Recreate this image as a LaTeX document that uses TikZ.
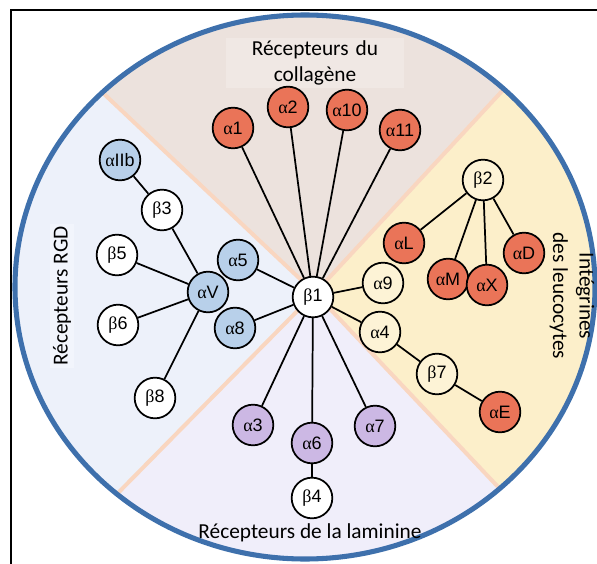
\documentclass[tikz,border=0pt]{standalone}
\usepackage{fontspec}
\setmainfont{Carlito}
\newfontfamily\lblfont{Liberation Sans}
\newfontfamily\grkfont{Liberation Serif}
\newcommand{\alf}{{\grkfont α}}
\newcommand{\bet}{{\grkfont β}}

\definecolor{fondcol}{RGB}{236,226,221}
\definecolor{fondleu}{RGB}{252,239,202}
\definecolor{fondlam}{RGB}{240,238,250}
\definecolor{fondrgd}{RGB}{237,241,250}
\definecolor{separ}{RGB}{249,214,192}
\definecolor{bord}{RGB}{62,112,172}
\definecolor{rougeint}{RGB}{234,116,88}
\definecolor{bleuint}{RGB}{184,208,234}
\definecolor{violint}{RGB}{204,184,228}
\definecolor{jauneint}{RGB}{253,243,214}

\tikzset{every picture/.style={line width=0.75pt}}
\tikzset{
  integ/.style={circle, draw=black, line width=1.3pt, minimum size=30.5pt, inner sep=0pt,
    font=\lblfont\fontsize{13.5}{15}\selectfont},
  rouge/.style={integ, fill=rougeint},
  bleu/.style={integ, fill=bleuint},
  violet/.style={integ, fill=violint},
  jaune/.style={integ, fill=jauneint},
  blanc/.style={integ, fill=white},
  lien/.style={line width=1.3pt},
  separ/.style={draw=separ, line width=3pt},
  titre/.style={font=\fontsize{16}{20}\selectfont, inner sep=2pt}
}

\begin{document}
\begin{tikzpicture}[x=0.75pt,y=0.75pt,yscale=-1]
\useasboundingbox (0,0) rectangle (597,564);
% cadre
\draw[line width=0.8pt] (11,564) -- (11,10) -- (597,10);

% secteurs
\coordinate (ctr) at (315,293);
\coordinate (tl) at (-109,-107);
\coordinate (tr) at (693,-115);
\coordinate (br) at (685,685);
\coordinate (bl) at (-81,695);
\begin{scope}
\clip (305,287) circle [x radius=290, y radius=272];
\fill[fondcol] (ctr) -- (tl) -- (-109,-300) -- (693,-300) -- (tr) -- cycle;
\fill[fondleu] (ctr) -- (tr) -- (900,-115) -- (900,685) -- (br) -- cycle;
\fill[fondlam] (ctr) -- (br) -- (685,900) -- (-81,900) -- (bl) -- cycle;
\fill[fondrgd] (ctr) -- (bl) -- (-300,695) -- (-300,-107) -- (tl) -- cycle;
\draw[separ] (ctr) -- (tl);
\draw[separ] (ctr) -- (tr);
\draw[separ] (ctr) -- (br);
\draw[separ] (ctr) -- (bl);
\end{scope}
\draw[bord, line width=3.8pt] (305,287) circle [x radius=290, y radius=272];

% titres
\node[titre, fill={rgb,255:red,240;green,232;blue,228}, align=center, text width=130pt] (tcol) at (315,63) {Récepteurs du\\collagène};
\node[titre, fill={rgb,255:red,242;green,245;blue,252}, rotate=90] (trgd) at (62,296) {Récepteurs RGD};
\node[titre, align=center, rotate=-90] (tleu) at (572,296) {Intégrines\\des leucocytes};
\node[titre] (tlam) at (310,533) {Récepteurs de la laminine};

% integrines
\node[blanc] (b1) at (313,297) {\bet1};
\node[rouge] (a1) at (233,128) {\alf1};
\node[rouge] (a2) at (288,107) {\alf2};
\node[rouge] (a10) at (347,110) {\alf10};
\node[rouge] (a11) at (400,130) {\alf11};
\node[jaune] (b2) at (483,180) {\bet2};
\node[rouge] (aL) at (404,243) {\alf L};
\node[rouge] (aM) at (448,279) {\alf M};
\node[rouge] (aX) at (487,285) {\alf X};
\node[rouge] (aD) at (524,253) {\alf D};
\node[jaune] (a9) at (383,283) {\alf9};
\node[jaune] (a4) at (380,332) {\alf4};
\node[jaune] (b7) at (437,374) {\bet7};
\node[rouge] (aE) at (500,412) {\alf E};
\node[violet] (a3) at (253,425) {\alf3};
\node[violet] (a6) at (312,443) {\alf6};
\node[violet] (a7) at (375,426) {\alf7};
\node[blanc] (b4) at (312,498) {\bet4};
\node[bleu] (aIIb) at (120,160) {\alf IIb};
\node[blanc] (b3) at (162,210) {\bet3};
\node[blanc] (b5) at (117,255) {\bet5};
\node[bleu] (a5) at (238,260) {\alf5};
\node[bleu] (aV) at (208,292) {\alf V};
\node[blanc] (b6) at (118,325) {\bet6};
\node[bleu] (a8) at (235,328) {\alf8};
\node[blanc] (b8) at (155,398) {\bet8};

% liens
\foreach \n in {a1,a2,a10,a11,a9,a4,a7,a6,a3,a5,a8}
  \draw[lien] (b1) -- (\n);
\foreach \n in {b3,b5,b6,b8}
  \draw[lien] (aV) -- (\n);
\draw[lien] (b3) -- (aIIb);
\foreach \n in {aL,aM,aX,aD}
  \draw[lien] (b2) -- (\n);
\draw[lien] (a4) -- (b7) -- (aE);
\draw[lien] (a6) -- (b4);
\end{tikzpicture}
\end{document}
